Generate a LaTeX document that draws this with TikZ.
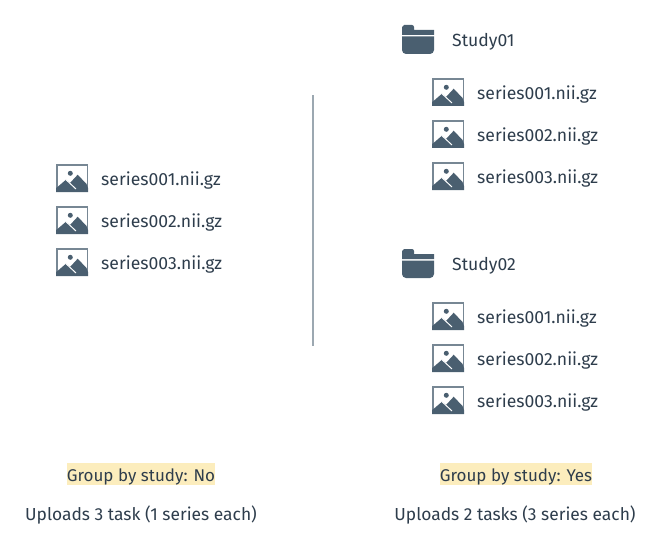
\documentclass[tikz,border=0pt]{standalone}
\usepackage{fontspec}
\setmainfont{Fira Sans}
\usepackage{xcolor}
\usetikzlibrary{positioning,calc}
\definecolor{icon}{HTML}{4A5F70}
\definecolor{ink}{HTML}{2E3D4C}
\definecolor{hl}{HTML}{FCEDBD}
\definecolor{rule}{HTML}{9CA8B1}
\tikzset{
  label/.style = {anchor = west, inner sep = 0pt, text = ink, font = \fontsize{17.6}{20}\selectfont},
  caption/.style = {inner sep = 0pt, text = ink, font = \fontsize{17.4}{20}\selectfont},
  flag/.style = {inner sep = 0pt, text = ink, fill = hl, text height = 18pt, text depth = 4pt, font = \fontsize{17}{20}\selectfont},
  imgicon/.pic = {
    \fill[icon!75!white] (0,0) rectangle (32,28);
    \fill[white] (1.5,2.2) rectangle (30.5,25);
    \fill[icon] (0,28) -- (0,24) -- (1.5,23) -- (10,15.7) -- (14,19) -- (21.7,10.7) -- (30.5,20) -- (32,24) -- (32,28) -- cycle;
    \draw[white, line width = 1pt] (10,15.7) -- (20,25);
    \fill[icon] (14.3,9.3) circle (2.5);
  },
  foldericon/.pic = {
    \fill[icon] (0,2) to[out = -90, in = 180] (2,0) -- (10,0) to[out = 0, in = 90] (12,2) -- (12,5) -- (32,5) -- (32,10) -- (0,10) -- cycle;
    \fill[icon] (0,11.5) -- (32,11.5) -- (32,25) to[out = -90, in = 0] (28,29) -- (4,29) to[out = 180, in = -90] (0,25) -- cycle;
  }
}
\begin{document}
\begin{tikzpicture}[x = 1pt, y = -1pt]
  \useasboundingbox (0,0) rectangle (660,548);
  \foreach \n/\y in {1/179, 2/221, 3/263} {
    \pic at (56,\y-15) {imgicon};
    \node[label] (a\n) at (101,\y+2) {series00\n.nii.gz};
  }
  \foreach \n/\y in {1/93, 2/135, 3/177} {
    \pic at (432,\y-15) {imgicon};
    \node[label] (b\n) at (477,\y+2) {series00\n.nii.gz};
  }
  \foreach \n/\y in {1/317, 2/359, 3/401} {
    \pic at (432,\y-15) {imgicon};
    \node[label] (c\n) at (477,\y+2) {series00\n.nii.gz};
  }
  \pic at (402,25) {foldericon};
  \pic at (402,249) {foldericon};
  \node[label] (study1) at (452,42) {Study01};
  \node[label] (study2) at (452,266) {Study02};
  \node[inner sep = 0pt] (top) at (313,94.5) {};
  \node[inner sep = 0pt] (bot) at (313,346.5) {};
  \draw[rule, line width = 1.5pt] (top) -- (bot);
  \node[flag] (groupno) at (141,474) {Group by study: No};
  \node[flag] (groupyes) at (516,474) {Group by study: Yes};
  \node[caption] (uploadsno) at (141,514.5) {Uploads 3 task (1 series each)};
  \node[caption] (uploadsyes) at (515,514.5) {Uploads 2 tasks (3 series each)};
\end{tikzpicture}
\end{document}
